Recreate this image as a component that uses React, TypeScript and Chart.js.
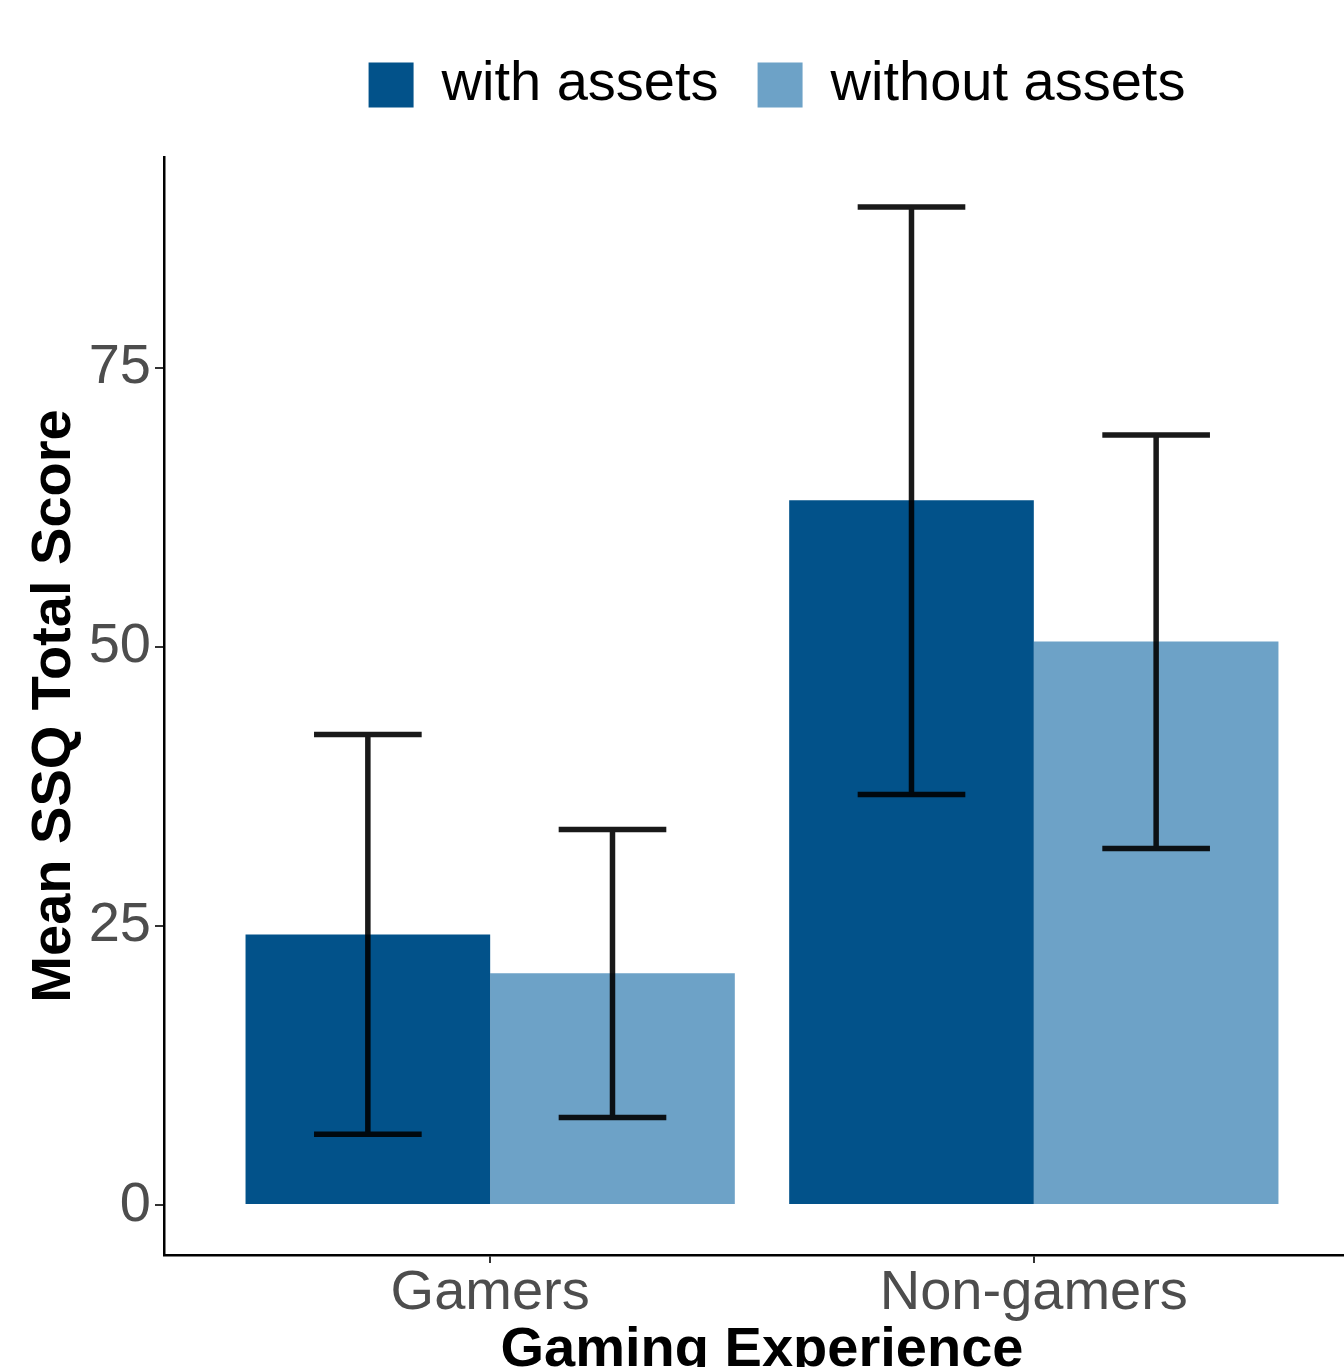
import React, { useEffect, useRef } from 'react';
import { Chart, registerables } from 'chart.js';

Chart.register(...registerables);

// ---- data ----
const categories = ['Gamers', 'Non-gamers'];
const seriesNames = ['with assets', 'without assets'];
const withAssetsMean = [24.24, 63.12];
const withAssetsLow = [6.35, 36.76];
const withAssetsHigh = [42.13, 89.38];
const withoutAssetsMean = [20.75, 50.47];
const withoutAssetsLow = [7.84, 31.93];
const withoutAssetsHigh = [33.63, 68.96];
const yTicks = [0, 25, 50, 75];

const seriesColors = ['#02528A', '#6DA2C7'];
const FONT = "'Liberation Sans', Arial, Helvetica, sans-serif";

const errLows = [withAssetsLow, withoutAssetsLow];
const errHighs = [withAssetsHigh, withoutAssetsHigh];

const LEGEND_GAP = 34;
const LEGEND_SHIFT = 15;

const legendLayoutPlugin = {
  id: 'legendLayout',
  beforeInit(chart: any) {
    const legend = chart.legend;
    if (!legend) return;
    const origFit = legend.fit;
    legend.fit = function (...args: any[]) {
      origFit.apply(this, args);
      this.height += LEGEND_GAP;
    };
    const origDraw = legend.draw;
    legend.draw = function (...args: any[]) {
      const ctx = this.ctx;
      ctx.save();
      ctx.translate(LEGEND_SHIFT, 0);
      origDraw.apply(this, args);
      ctx.restore();
    };
  },
};

const errorBarPlugin = {
  id: 'errorBars',
  afterDatasetsDraw(chart: any) {
    const ctx = chart.ctx;
    const yScale = chart.scales.y;
    ctx.save();
    ctx.strokeStyle = 'rgba(0,0,0,0.9)';
    ctx.lineWidth = 5.5;
    ctx.lineCap = 'butt';
    chart.data.datasets.forEach((_: any, d: number) => {
      const meta = chart.getDatasetMeta(d);
      meta.data.forEach((bar: any, i: number) => {
        const x = bar.x;
        const half = bar.width * 0.22;
        const yHi = yScale.getPixelForValue(errHighs[d][i]);
        const yLo = yScale.getPixelForValue(errLows[d][i]);
        ctx.beginPath();
        ctx.moveTo(x - half, yHi);
        ctx.lineTo(x + half, yHi);
        ctx.moveTo(x, yHi);
        ctx.lineTo(x, yLo);
        ctx.moveTo(x - half, yLo);
        ctx.lineTo(x + half, yLo);
        ctx.stroke();
      });
    });
    ctx.restore();
  },
};

export default function App() {
  const ref = useRef<HTMLCanvasElement>(null);

  useEffect(() => {
    const canvas = ref.current;
    if (!canvas) return;
    const tickFont = { family: FONT, size: 56, lineHeight: 1 };
    const titleFont = { family: FONT, size: 56, weight: 'bold' as const, lineHeight: 1 };
    const chart = new Chart(canvas, {
      type: 'bar',
      data: {
        datasets: [
          {
            label: seriesNames[0],
            data: withAssetsMean.map((v, i) => ({ x: i + 1, y: v })),
            backgroundColor: seriesColors[0],
            borderWidth: 0,
            categoryPercentage: 0.9,
            barPercentage: 1,
          },
          {
            label: seriesNames[1],
            data: withoutAssetsMean.map((v, i) => ({ x: i + 1, y: v })),
            backgroundColor: seriesColors[1],
            borderWidth: 0,
            categoryPercentage: 0.9,
            barPercentage: 1,
          },
        ],
      } as any,
      options: {
        animation: false,
        responsive: false,
        events: [],
        layout: { padding: { top: 18, left: 0, right: 0, bottom: 0 } },
        plugins: {
          legend: {
            position: 'top',
            fullSize: false,
            align: 'center',
            labels: {
              boxWidth: 45,
              boxHeight: 45,
              padding: 39,
              color: '#000000',
              font: { family: FONT, size: 56 },
            },
          },
          tooltip: { enabled: false },
        },
        scales: {
          x: {
            type: 'linear',
            offset: false,
            min: 0.4,
            max: 2.6,
            afterBuildTicks: (axis: any) => {
              axis.ticks = categories.map((_, i) => ({ value: i + 1 }));
            },
            ticks: {
              callback: (v: any) => categories[Math.round(Number(v)) - 1] ?? '',
              color: '#4D4D4D',
              font: tickFont,
              padding: 3,
              maxRotation: 0,
              autoSkip: false,
            },
            grid: {
              display: true,
              offset: false,
              drawOnChartArea: false,
              drawTicks: true,
              tickLength: 8,
              color: '#333333',
              lineWidth: 2,
            },
            border: { display: true, color: '#000000', width: 2.5 },
            title: {
              display: true,
              text: 'Gaming Experience',
              color: '#000000',
              font: titleFont,
              padding: { top: -2, bottom: -4 },
            },
          },
          y: {
            type: 'linear',
            min: -4.47,
            max: 93.85,
            afterBuildTicks: (axis: any) => {
              axis.ticks = yTicks.map((v) => ({ value: v }));
            },
            ticks: {
              callback: (v: any) => String(v),
              color: '#4D4D4D',
              font: tickFont,
              padding: 4,
              autoSkip: false,
            },
            grid: {
              display: true,
              drawOnChartArea: false,
              drawTicks: true,
              tickLength: 9,
              color: '#333333',
              lineWidth: 2,
            },
            border: { display: true, color: '#000000', width: 2.5 },
            title: {
              display: true,
              text: 'Mean SSQ Total Score',
              color: '#000000',
              font: titleFont,
              padding: { top: 27, bottom: 1.7 },
            },
          },
        },
      } as any,
      plugins: [legendLayoutPlugin, errorBarPlugin],
    });
    return () => chart.destroy();
  }, []);

  return (
    <div
      style={{
        position: 'fixed',
        left: 0,
        top: 0,
        width: '1344px',
        height: '1367px',
        overflow: 'hidden',
        background: '#ffffff',
      }}
    >
      <canvas
        ref={ref}
        width={1360}
        height={1375}
        style={{ display: 'block', width: '1360px', height: '1375px' }}
      />
    </div>
  );
}
